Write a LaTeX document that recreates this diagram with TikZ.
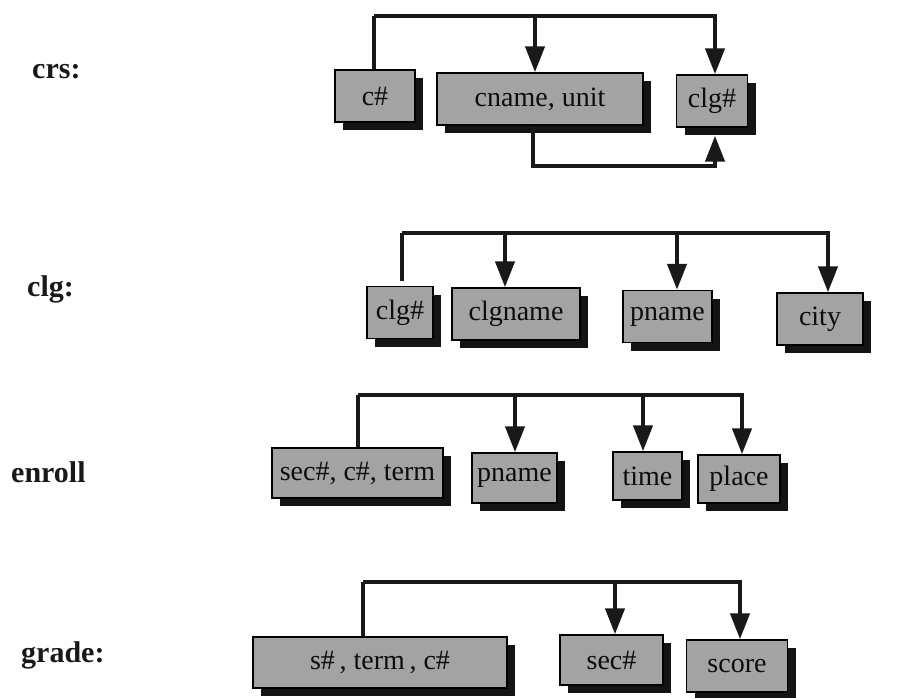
\documentclass[tikz,border=0pt]{standalone}
\usepackage{fontspec}
\setmainfont{Liberation Serif}
\usetikzlibrary{arrows.meta,shadows}

\tikzset{
  attr/.style={draw=black, line width=1.4pt, fill=black!36, inner sep=0pt,
    minimum height=52pt, text=black!95,
    font=\fontsize{28}{31}\selectfont,
    drop shadow={shadow xshift=8pt, shadow yshift=-8pt, fill=black!92, opacity=1}},
  relname/.style={anchor=base west, inner sep=0pt, text=black!90,
    font=\bfseries\fontsize{30}{33}\selectfont},
  wire/.style={draw=black!90, line width=4.3pt, line join=miter},
  tip/.style={-{Triangle[length=26pt,width=19pt]}}
}

\begin{document}
\begin{tikzpicture}[x=1pt,y=-1pt]
\useasboundingbox (0,0) rectangle (919,698);

% relation names
\node[relname] (lcrs)    at (32,79)  {crs:};
\node[relname] (lclg)    at (27,296) {clg:};
\node[relname] (lenroll) at (11,482) {enroll};
\node[relname] (lgrade)  at (21,662) {grade:};

% crs
\node[attr, minimum width=80pt]  (cnum)  at (375,96)    {c\#};
\node[attr, minimum width=206pt] (cname) at (540,99)    {cname, unit};
\node[attr, minimum width=71pt]  (cclg)  at (712,101)   {clg\#};

% clg
\node[attr, minimum width=66pt]  (gclg)   at (400,312.5) {clg\#};
\node[attr, minimum width=128pt] (gcname) at (516,314)   {clgname};
\node[attr, minimum width=89pt]  (gpname) at (667.5,316.5) {pname};
\node[attr, minimum width=86pt]  (gcity)  at (820,319)   {city};

% enroll
\node[attr, minimum width=171pt, minimum height=50pt] (ekey)   at (357.5,473) {sec\#, c\#, term};
\node[attr, minimum width=85pt,  minimum height=50pt] (epname) at (514.5,478) {pname};
\node[attr, minimum width=69pt,  minimum height=48pt] (etime)  at (647.5,476) {time};
\node[attr, minimum width=82pt,  minimum height=48pt] (eplace) at (739,479)   {place};

% grade
\node[attr, minimum width=254pt, minimum height=51pt] (rkey)   at (380,662.5) {s\#\,, term\,, c\#};
\node[attr, minimum width=103pt, minimum height=50pt] (rsec)   at (611.5,660) {sec\#};
\node[attr, minimum width=101pt, minimum height=52pt] (rscore) at (737,666)   {score};

% dependency buses
\coordinate (crsbus)    at (374,16);
\coordinate (clgbus)    at (402,233);
\coordinate (enrollbus) at (358,395);
\coordinate (gradebus)  at (363,582);

% crs dependencies
\draw[wire] (cnum.north -| crsbus) -- (crsbus);
\draw[wire,tip] (crsbus) -| ([xshift=3pt]cclg.north);
\draw[wire,tip] (crsbus) -| ([xshift=-5pt]cname.north);
\draw[wire,tip] ([xshift=-7pt]cname.south) -- ++(0,40) -| ([xshift=3pt,yshift=-8pt]cclg.south);

% clg dependencies
\draw[wire] ([yshift=5pt]gclg.north -| clgbus) -- (clgbus);
\draw[wire,tip] (clgbus) -| ([xshift=8pt]gcity.north);
\draw[wire,tip] (clgbus) -| ([xshift=9.5pt]gpname.north);
\draw[wire,tip] (clgbus) -| ([xshift=-11pt]gcname.north);

% enroll dependencies
\draw[wire] (ekey.north -| enrollbus) -- (enrollbus);
\draw[wire,tip] (enrollbus) -| ([xshift=3pt]eplace.north);
\draw[wire,tip] (enrollbus) -| ([xshift=-4.5pt]etime.north);
\draw[wire,tip] (enrollbus) -| ([xshift=0.5pt]epname.north);

% grade dependencies
\draw[wire] (rkey.north -| gradebus) -- (gradebus);
\draw[wire,tip] (gradebus) -| ([xshift=3pt]rscore.north);
\draw[wire,tip] (gradebus) -| ([xshift=3.5pt]rsec.north);
\end{tikzpicture}
\end{document}
